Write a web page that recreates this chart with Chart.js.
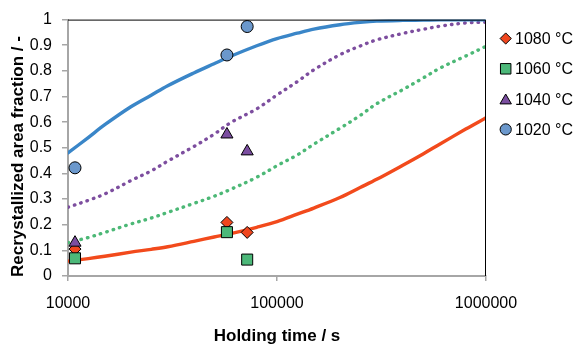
<!DOCTYPE html>
<html>
<head>
<meta charset="utf-8">
<script src="https://cdn.jsdelivr.net/npm/chart.js@4/dist/chart.umd.min.js"></script>
<style>
  html, body { margin: 0; padding: 0; background: #ffffff; }
  #wrap { width: 574px; height: 349px; }
</style>
</head>
<body>
<div id="wrap"><canvas id="c" width="574" height="349"></canvas></div>
<script>
// Holding times (s) of the measured samples
const holdTimes = [10800, 57600, 72000];

// Measured recrystallized area fraction per annealing temperature
const meas1080 = [0.105, 0.209, 0.170];
const meas1060 = [0.069, 0.171, 0.064];
const meas1040 = [0.130, 0.552, 0.486];
const meas1020 = [0.422, 0.862, 0.973];

// Time grid for the fitted kinetics curves (s)
const fitTimes = [10000, 12500, 15000, 20000, 25000, 30000, 40000, 50000, 60000, 80000,
                  100000, 125000, 150000, 200000, 250000, 300000, 400000, 500000, 600000, 800000, 1000000];

// Fitted curves
const fit1080 = [0.058, 0.068, 0.077, 0.093, 0.104, 0.114, 0.135, 0.152, 0.165, 0.190,
                 0.212, 0.241, 0.265, 0.306, 0.345, 0.377, 0.432, 0.476, 0.514, 0.573, 0.617];
const fit1060 = [0.130, 0.150, 0.170, 0.203, 0.226, 0.248, 0.283, 0.311, 0.338, 0.385,
                 0.430, 0.472, 0.514, 0.576, 0.626, 0.672, 0.727, 0.772, 0.810, 0.858, 0.896];
const fit1040 = [0.268, 0.295, 0.320, 0.372, 0.410, 0.448, 0.505, 0.553, 0.598, 0.652,
                 0.706, 0.758, 0.804, 0.863, 0.897, 0.921, 0.946, 0.962, 0.974, 0.987, 0.990];
const fit1020 = [0.480, 0.540, 0.590, 0.660, 0.705, 0.742, 0.792, 0.828, 0.857, 0.898,
                 0.926, 0.947, 0.963, 0.980, 0.989, 0.994, 0.997, 0.998, 0.999, 0.999, 0.999];

// Axis ticks and labels
const xTickValues = [10000, 100000, 1000000];
const yTickLabels = ['0', '0.1', '0.2', '0.3', '0.4', '0.5', '0.6', '0.7', '0.8', '0.9', '1'];

const seriesLabels = ['1080 \u00B0C', '1060 \u00B0C', '1040 \u00B0C', '1020 \u00B0C'];

const FONT = "'Liberation Sans', Arial, Helvetica, sans-serif";

const pts = (xs, ys) => xs.map((x, i) => ({ x: x, y: ys[i] }));

function curve(data, color, dotted, order) {
  return {
    type: 'line',
    data: pts(fitTimes, data),
    borderColor: color,
    borderWidth: 3.4,
    borderDash: dotted ? [0.5, 6.2] : [],
    borderCapStyle: 'round',
    borderJoinStyle: 'round',
    pointRadius: 0,
    pointHoverRadius: 0,
    fill: false,
    tension: 0.35,
    isFit: true,
    order: order
  };
}

function markers(label, data, fill, style, radius, order) {
  return {
    type: 'scatter',
    label: label,
    data: pts(holdTimes, data),
    showLine: false,
    backgroundColor: fill,
    borderColor: '#000000',
    borderWidth: 1,
    pointStyle: style,
    pointRadius: radius,
    pointHoverRadius: radius,
    order: order
  };
}

const datasets = [
  markers(seriesLabels[0], meas1080, '#f0461e', 'rectRot', 6, 3),
  markers(seriesLabels[1], meas1060, '#4cb879', 'rect', 7.8, 2),
  markers(seriesLabels[2], meas1040, '#7b4ea0', 'triangle', 7, 1),
  markers(seriesLabels[3], meas1020, '#6b98cc', 'circle', 6, 0),
  curve(fit1080, '#f24a1c', false, 7),
  curve(fit1060, '#4cb876', true, 6),
  curve(fit1040, '#7d4e9f', true, 5),
  curve(fit1020, '#3a86c8', false, 4)
];

// Frame on top/right, axis titles and the legend
const decor = {
  id: 'decor',
  afterDraw(chart) {
    const ctx = chart.ctx;
    const a = chart.chartArea;
    ctx.save();
    ctx.strokeStyle = '#000000';
    ctx.lineWidth = 1;
    ctx.beginPath();
    ctx.moveTo(a.left, a.top + 0.5);
    ctx.lineTo(a.right - 0.5, a.top + 0.5);
    ctx.lineTo(a.right - 0.5, a.bottom);
    ctx.stroke();

    ctx.fillStyle = '#000000';
    ctx.font = "bold 17px " + FONT;
    ctx.textAlign = 'center';
    ctx.textBaseline = 'middle';
    ctx.fillText('Holding time / s', (a.left + a.right) / 2, 336);

    ctx.save();
    ctx.translate(18, 156.5);
    ctx.rotate(-Math.PI / 2);
    ctx.fillText('Recrystallized area fraction / -', 0, 0);
    ctx.restore();

    // legend: measured series only
    ctx.font = "16px " + FONT;
    ctx.textAlign = 'left';
    const lx = 505.7, ly0 = 38.5, step = 30.3;
    let row = 0;
    chart.data.datasets.forEach((ds) => {
      if (ds.isFit) return;
      const y = ly0 + row * step;
      ctx.fillStyle = ds.backgroundColor;
      ctx.strokeStyle = ds.borderColor;
      ctx.lineWidth = 1;
      Chart.helpers.drawPoint(ctx, {
        pointStyle: ds.pointStyle,
        radius: ds.pointStyle === 'rect' ? 7.4 : (ds.pointStyle === 'triangle' ? 6.6 : 5.6),
        rotation: 0,
        borderWidth: 1
      }, lx, ds.pointStyle === 'triangle' ? y + 1.5 : y);
      ctx.fillStyle = '#000000';
      ctx.fillText(ds.label, 515, y + 1);
      row++;
    });
    ctx.restore();
  }
};

new Chart(document.getElementById('c'), {
  data: { datasets: datasets },
  options: {
    responsive: false,
    animation: false,
    devicePixelRatio: 1,
    layout: { padding: { top: 11, right: 88, left: 0, bottom: 0 } },
    plugins: {
      legend: { display: false },
      tooltip: { enabled: false }
    },
    scales: {
      x: {
        type: 'logarithmic',
        position: 'bottom',
        min: 10000,
        max: 1000000,
        afterBuildTicks(scale) {
          scale.ticks = xTickValues.map(v => ({ value: v }));
        },
        afterFit(scale) { scale.height = 73; },
        ticks: {
          color: '#000000',
          font: { family: FONT, size: 16 },
          padding: 13,
          maxRotation: 0,
          autoSkip: false,
          callback: (v) => String(v)
        },
        grid: {
          drawOnChartArea: false,
          drawTicks: true,
          tickLength: 5,
          color: '#a6a6a6',
          lineWidth: 1.5
        },
        border: { display: true, color: '#a6a6a6', width: 2 }
      },
      y: {
        type: 'linear',
        min: 0,
        max: 1,
        afterFit(scale) { scale.width = 68; },
        ticks: {
          stepSize: 0.1,
          color: '#000000',
          font: { family: FONT, size: 16 },
          padding: 10,
          callback: (v, i) => yTickLabels[i]
        },
        grid: {
          drawOnChartArea: false,
          drawTicks: true,
          tickLength: 6,
          color: '#a6a6a6',
          lineWidth: 1.5
        },
        border: { display: true, color: '#a6a6a6', width: 2 }
      }
    }
  },
  plugins: [decor]
});
</script>
</body>
</html>
